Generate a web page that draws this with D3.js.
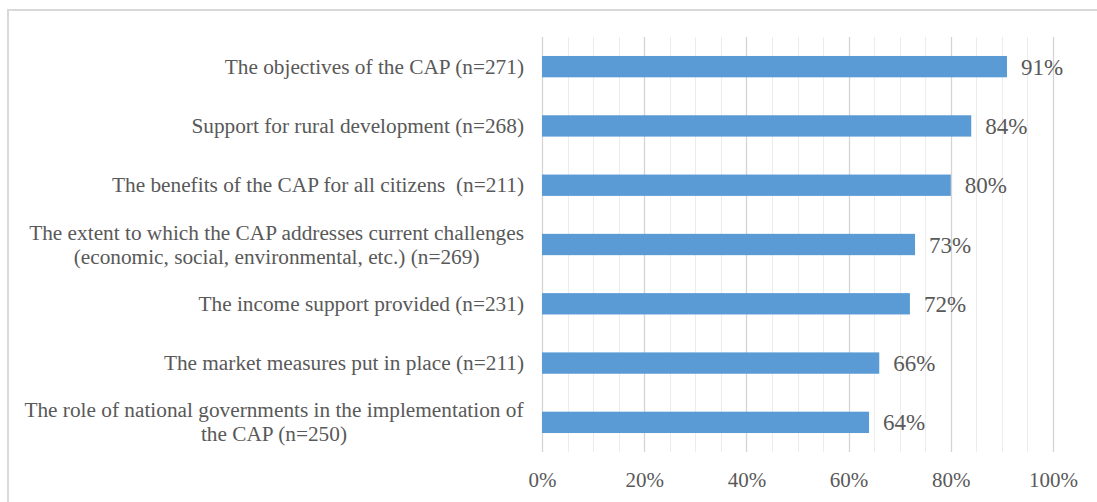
<!DOCTYPE html>
<html>
<head>
<meta charset="utf-8">
<script src="https://cdn.jsdelivr.net/npm/d3@7"></script>
<style>
  html, body { margin: 0; padding: 0; background: #ffffff; }
  svg { display: block; }
  text { font-family: "Liberation Serif", "Times New Roman", serif; fill: #595959; white-space: pre; }
</style>
</head>
<body>
<script>
// Survey items (top to bottom); "\n" marks a line break in the label
const categories = [
  "The objectives of the CAP (n=271)",
  "Support for rural development (n=268)",
  "The benefits of the CAP for all citizens  (n=211)",
  "The extent to which the CAP addresses current challenges\n(economic, social, environmental, etc.) (n=269)",
  "The income support provided (n=231)",
  "The market measures put in place (n=211)",
  "The role of national governments in the implementation of\nthe CAP (n=250)"
];
// Share of respondents, in percent
const values = [91, 84, 80, 73, 72, 66, 64];
// Axis ticks
const majorTicks = [0, 20, 40, 60, 80, 100];
const minorTicks = [5, 10, 15, 25, 30, 35, 45, 50, 55, 65, 70, 75, 85, 90, 95];

const W = 1097, H = 502;
const plot = { left: 542, right: 1053, top: 37, bottom: 452 };

const svg = d3.select("body").append("svg")
  .attr("width", W).attr("height", H);

// Chart frame
svg.append("rect")
  .attr("x", 8).attr("y", 10)
  .attr("width", W + 20).attr("height", H + 20)
  .attr("fill", "none")
  .attr("stroke", "#d9d9d9")
  .attr("stroke-width", 2);

const x = d3.scaleLinear().domain([0, 100]).range([plot.left, plot.right]);
const y = d3.scaleBand().domain(categories)
  .range([plot.top, plot.bottom])
  .paddingInner(0.64).paddingOuter(0.32);

// Minor gridlines
svg.append("g").selectAll("line").data(minorTicks).join("line")
  .attr("x1", d => Math.round(x(d)) + 0.5).attr("x2", d => Math.round(x(d)) + 0.5)
  .attr("y1", plot.top).attr("y2", plot.bottom)
  .attr("stroke", "#ececec").attr("stroke-width", 1);

// Major gridlines
svg.append("g").selectAll("line").data(majorTicks).join("line")
  .attr("x1", d => Math.round(x(d)) + 0.5).attr("x2", d => Math.round(x(d)) + 0.5)
  .attr("y1", plot.top).attr("y2", plot.bottom)
  .attr("stroke", "#d4d4d4").attr("stroke-width", 1.3);

// Bottom axis labels
const xAxis = d3.axisBottom(x).tickValues(majorTicks)
  .tickFormat(d => d + "%").tickSize(0).tickPadding(0);
const gx = svg.append("g")
  .attr("transform", `translate(0,${plot.bottom})`)
  .call(xAxis);
gx.select(".domain").remove();
gx.selectAll("text")
  .attr("y", 0).attr("dy", 0)
  .attr("transform", "translate(0,35)")
  .style("font-family", '"Liberation Serif", "Times New Roman", serif')
  .style("font-size", "21px")
  .attr("fill", "#595959");

// Bars
const data = categories.map((c, i) => ({ c, v: values[i] }));
svg.append("g").selectAll("rect").data(data).join("rect")
  .attr("x", x(0))
  .attr("y", d => y(d.c))
  .attr("width", d => x(d.v) - x(0))
  .attr("height", y.bandwidth())
  .attr("fill", "#5b9bd5");

// Value labels
svg.append("g").selectAll("text").data(data).join("text")
  .attr("x", d => x(d.v) + 14)
  .attr("y", d => y(d.c) + y.bandwidth() / 2 + 8)
  .style("font-size", "23px")
  .text(d => d.v + "%");

// Category labels (lines centred on each other, block right-aligned near the axis)
const lineH = 24;
const labelRight = 524;
const labels = svg.append("g").selectAll("text").data(categories).join("text")
  .attr("text-anchor", "middle")
  .style("font-size", "21.3px");

labels.each(function (d) {
  const lines = d.split("\n");
  const cy = y(d) + y.bandwidth() / 2;
  const t = d3.select(this);
  lines.forEach((ln, i) => {
    t.append("tspan")
      .attr("x", 0)
      .attr("y", cy + (i - (lines.length - 1) / 2) * lineH + 7)
      .text(ln);
  });
  const w = this.getBBox().width;
  t.selectAll("tspan").attr("x", labelRight - w / 2);
});
</script>
</body>
</html>
